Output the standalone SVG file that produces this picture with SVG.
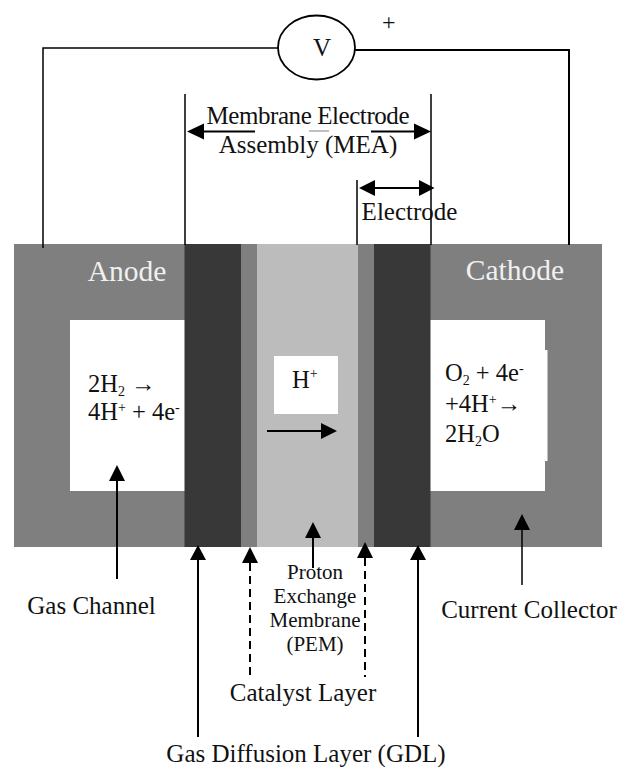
<svg xmlns="http://www.w3.org/2000/svg" width="620" height="767" viewBox="0 0 620 767">
<defs>
<style>
text{font-family:"Liberation Serif","Times New Roman",serif;fill:#111}
.l{font-size:25px}
.e{font-size:24.500px}
.u{font-size:14px}
.w{font-size:29.500px;fill:#f0f0f0}
.s{font-size:21px}
.c{stroke:#000;stroke-width:2;fill:none}
.t{stroke:#000;stroke-width:1.500;fill:none}
.d{stroke:#000;stroke-width:2;fill:none;stroke-dasharray:8 5}
.a{fill:#000}
</style>
</defs>
<rect width="620" height="767" fill="#fff"/>
<g id="anode-collector"><rect x="14" y="244" width="171" height="303" fill="#7f7f7f"/><rect x="70" y="320" width="115" height="171" fill="#fff"/></g>
<g id="cathode-collector"><rect x="430" y="244" width="172" height="303" fill="#7f7f7f"/><rect x="430" y="320" width="115" height="171" fill="#fff"/><rect x="428.500" y="350" width="119" height="111" fill="#fff"/></g>
<g id="anode-gdl"><rect x="184.500" y="244" width="56.500" height="303" fill="#383838"/></g>
<g id="anode-catalyst"><rect x="241" y="244" width="16" height="303" fill="#7f7f7f"/></g>
<g id="pem"><rect x="257" y="244" width="101" height="303" fill="#bcbcbc"/><rect x="274" y="356" width="64" height="58" fill="#fff"/></g>
<g id="cathode-catalyst"><rect x="358" y="244" width="16" height="303" fill="#7f7f7f"/></g>
<g id="cathode-gdl"><rect x="374" y="244" width="56.500" height="303" fill="#383838"/></g>
<g id="voltmeter"><ellipse cx="316.500" cy="47.500" rx="38.500" ry="32" fill="#fff" stroke="#000" stroke-width="1.800"/><text x="322" y="56" text-anchor="middle" font-size="25">V</text><text x="382" y="30" font-size="24">+</text></g>
<g id="connectors">
<path class="t" d="M43 248V48H279"/>
<path class="c" d="M354 50H569V245"/>
<path class="t" d="M185 94V245M431 94V245M357 180V245"/>
<path class="c" d="M203 131.500H255M371 131.500H417"/>
<path d="M309 131H329" stroke="#aaa" stroke-width="1.500" fill="none"/>
<path class="a" d="M187 131.500L204 123.500V139.500ZM431 131.500L414 123.500V139.500Z"/>
<path class="c" d="M373 188H421"/>
<path class="a" d="M359 188L375 180V196ZM434.500 188L419 180V196Z"/>
<path class="c" d="M267 431H325"/><path class="a" d="M337 431L321 423V439Z"/>
<path class="c" d="M117 479V579"/><path class="a" d="M117 465L109 481H125Z"/>
<path class="c" d="M313 536V568"/><path class="a" d="M313 522L305 538H321Z"/>
<path class="t" d="M522 528V585"/><path class="a" d="M522 514L514 530H530Z"/>
<path class="c" d="M198 558V737"/><path class="a" d="M198 545L190 560H206Z"/>
<path class="c" d="M418 558V737"/><path class="a" d="M418 545L410 560H426Z"/>
<path class="d" d="M250 563V677"/><path class="a" d="M250 547L242 563H258Z"/>
<path class="d" d="M365 558V677"/><path class="a" d="M365 542L357 558H373Z"/>
</g>
<g id="labels">
<text class="l" x="308" y="124" text-anchor="middle" textLength="203">Membrane Electrode</text>
<text class="l" x="308" y="153" text-anchor="middle">Assembly (MEA)</text>
<text class="l" x="409.500" y="220" text-anchor="middle">Electrode</text>
<text class="w" x="127" y="281" text-anchor="middle">Anode</text>
<text class="w" x="515" y="280" text-anchor="middle">Cathode</text>
<text class="e" x="88" y="392">2H<tspan class="u" dy="4">2</tspan><tspan dy="-4"> →</tspan></text>
<text class="e" x="88" y="420">4H<tspan class="u" dy="-8">+</tspan><tspan dy="8"> + 4e</tspan><tspan class="u" dy="-8">-</tspan></text>
<text class="e" x="292" y="388">H<tspan class="u" dy="-10">+</tspan></text>
<text class="e" x="445" y="381">O<tspan class="u" dy="4">2</tspan><tspan dy="-4"> + 4e</tspan><tspan class="u" dy="-8">-</tspan></text>
<text class="e" x="445" y="412">+4H<tspan class="u" dy="-8">+</tspan><tspan dy="8">→</tspan></text>
<text class="e" x="445" y="442">2H<tspan class="u" dy="4">2</tspan><tspan dy="-4">O</tspan></text>
<text class="l" x="91.500" y="614" text-anchor="middle">Gas Channel</text>
<text class="l" x="529" y="618" text-anchor="middle">Current Collector</text>
<text class="s" x="315" y="579" text-anchor="middle">Proton</text>
<text class="s" x="315" y="603" text-anchor="middle">Exchange</text>
<text class="s" x="315" y="627" text-anchor="middle">Membrane</text>
<text class="s" x="315" y="651" text-anchor="middle">(PEM)</text>
<text class="l" x="303" y="701" text-anchor="middle">Catalyst Layer</text>
<text class="l" x="306" y="762" text-anchor="middle">Gas Diffusion Layer (GDL)</text>
</g>
</svg>
